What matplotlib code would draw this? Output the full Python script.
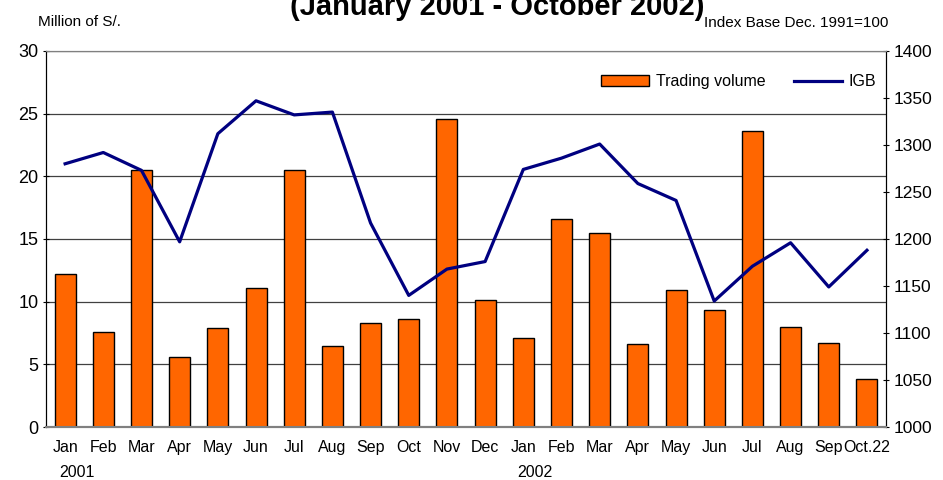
import numpy as np
import matplotlib
matplotlib.use('Agg')
import matplotlib.pyplot as plt
from matplotlib.patches import Patch
from matplotlib.lines import Line2D

plt.rcParams['font.family'] = ['Liberation Sans', 'DejaVu Sans']

# data
months = ["Jan", "Feb", "Mar", "Apr", "May", "Jun", "Jul", "Aug", "Sep", "Oct", "Nov", "Dec",
          "Jan", "Feb", "Mar", "Apr", "May", "Jun", "Jul", "Aug", "Sep", "Oct.22"]
volume = [12.2, 7.6, 20.5, 5.6, 7.9, 11.1, 20.5, 6.5, 8.3, 8.6, 24.6, 10.1,
          7.1, 16.6, 15.5, 6.6, 10.9, 9.3, 23.6, 8.0, 6.7, 3.8]
igb = [1280, 1292, 1273, 1197, 1312, 1347, 1332, 1335, 1217, 1140, 1168, 1176,
       1274, 1286, 1301, 1259, 1241, 1134, 1171, 1196, 1149, 1188]
years = ["2001", "2002"]
year_start = [0, 12]

fig = plt.figure(figsize=(9.43, 4.8), dpi=100)
ax = fig.add_axes([0.0488, 0.1104, 0.8908, 0.7834])
ax2 = ax.twinx()

x = np.arange(len(months))
ax.bar(x, volume, width=0.55, color='#FF6600', edgecolor='black', linewidth=1, zorder=3)
ax.set_xlim(-0.5, len(months) - 0.5)
ax.set_ylim(0, 30)
ax.set_yticks(np.arange(0, 31, 5))
ax.yaxis.grid(True, color='#404040', linewidth=0.9, zorder=0)
ax.set_axisbelow(True)
ax.set_xticks(x)
ax.set_xticklabels(months, fontsize=11.5)
ax.tick_params(axis='x', length=0, pad=9)
ax.tick_params(axis='y', labelsize=13, length=4, direction='inout')

ax2.plot(x, igb, color='#000080', lw=2.3, zorder=4)
ax2.set_ylim(1000, 1400)
ax2.set_yticks(np.arange(1000, 1401, 50))
ax2.tick_params(axis='y', labelsize=12.5, length=4, direction='inout')

for a in (ax, ax2):
    a.spines['top'].set_color('#808080')
    a.spines['bottom'].set_color('#808080')
    a.spines['bottom'].set_linewidth(1.5)

for yr, s in zip(years, year_start):
    ax.text(s + 0.3, -0.12, yr, transform=ax.get_xaxis_transform(),
            ha='center', va='center', fontsize=11.5)

handles = [Patch(facecolor='#FF6600', edgecolor='black', label='Trading volume'),
           Line2D([], [], color='#000080', lw=2.3, label='IGB')]
ax2.legend(handles=handles, loc='center right', bbox_to_anchor=(1.005, 0.918),
           ncol=2, frameon=False, fontsize=11.5, handlelength=3.0,
           handletextpad=0.4, columnspacing=1.8)

fig.text(0.527, 0.969, "(January 2001 - October 2002)", ha='center', va='baseline',
         fontsize=21, fontweight='bold')
fig.text(0.04, 0.955, "Million of S/.", ha='left', va='center', fontsize=11)
fig.text(0.942, 0.952, "Index Base Dec. 1991=100", ha='right', va='center', fontsize=11)

fig.savefig('out.png', dpi=100)
